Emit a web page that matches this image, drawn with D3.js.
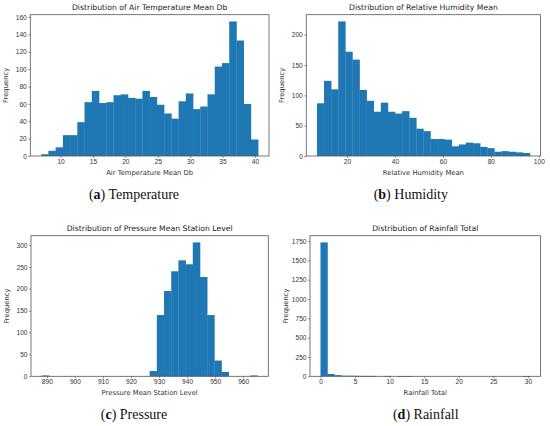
<!DOCTYPE html>
<html lang="en">
<head>
<meta charset="UTF-8">
<script src="https://d3js.org/d3.v7.min.js"></script>
<style>
  body { margin: 0; background: #fff; }
  svg { display: block; font-family: "DejaVu Sans", sans-serif; }
  .tick text { fill: #333; font-size: 6.6px; }
  .tick line { stroke: #444; stroke-width: 0.6; }
  .domain { display: none; }
  .frame { fill: none; stroke: #555; stroke-width: 0.8; }
  .title { fill: #222; font-size: 7.7px; }
  .axis-label { fill: #333; font-size: 6.8px; }
  .caption { fill: #111; font-family: "Liberation Serif", serif; font-size: 14px; }
</style>
</head>
<body>
<div id="chart"></div>
<script>
// Histogram counts (30 bins each) and the data range they cover
const tempCounts = [2, 6, 10, 24, 24, 39, 62, 75, 61, 62, 70, 71, 67, 66, 75,
  68, 59, 49, 43, 63, 72, 54, 57, 71, 103, 107, 155, 133, 60, 19];
const tempRange = [7.0, 40.5];

const humidCounts = [87, 124, 110, 222, 172, 159, 109, 91, 73, 88, 73, 70, 74, 63, 45,
  41, 28, 28, 27, 16, 19, 22, 21, 15, 13, 7, 8, 7, 6, 5];
const humidRange = [7.5, 96.25];

const pressCounts = [2, 0, 0, 0, 0, 0, 0, 0, 0, 0, 0, 0, 0, 0, 0,
  12, 140, 195, 240, 265, 256, 306, 227, 140, 36, 10, 0, 0, 0, 2];
const pressRange = [888.2, 965.1];

const rainCounts = [1733, 30, 15, 8, 8, 6, 5, 5, 0, 5, 0, 4, 4, 0, 0,
  0, 0, 0, 0, 0, 0, 0, 0, 0, 0, 0, 0, 0, 0, 1];
const rainRange = [0, 30.3];

// Tick labels
const tempXTicks = [10, 15, 20, 25, 30, 35, 40];
const tempYTicks = [0, 20, 40, 60, 80, 100, 120, 140, 160];
const humidXTicks = [20, 40, 60, 80, 100];
const humidYTicks = [0, 50, 100, 150, 200];
const pressXTicks = [890, 900, 910, 920, 930, 940, 950, 960];
const pressYTicks = [0, 50, 100, 150, 200, 250, 300];
const rainXTicks = [0, 5, 10, 15, 20, 25, 30];
const rainYTicks = [0, 250, 500, 750, 1000, 1250, 1500, 1750];

const width = 550;
const height = 426;
const fmt = d3.format("d");

const svg = d3.select("#chart")
  .append("svg")
  .attr("width", width)
  .attr("height", height);

svg.append("rect")
  .attr("width", width)
  .attr("height", height)
  .attr("fill", "#fff");

const panels = [
  { counts: tempCounts, range: tempRange, xTicks: tempXTicks, yTicks: tempYTicks,
    title: "Distribution of Air Temperature Mean Db", xLabel: "Air Temperature Mean Db",
    letter: "a", caption: "Temperature", capX: 134,
    box: { x0: 30.3, x1: 269, y0: 14.7, y1: 156 } },
  { counts: humidCounts, range: humidRange, xTicks: humidXTicks, yTicks: humidYTicks,
    title: "Distribution of Relative Humidity Mean", xLabel: "Relative Humidity Mean",
    letter: "b", caption: "Humidity", capX: 410.8,
    box: { x0: 306.3, x1: 540.5, y0: 14.7, y1: 156 } },
  { counts: pressCounts, range: pressRange, xTicks: pressXTicks, yTicks: pressYTicks,
    title: "Distribution of Pressure Mean Station Level", xLabel: "Pressure Mean Station Level",
    letter: "c", caption: "Pressure", capX: 134,
    box: { x0: 31, x1: 268.3, y0: 235.7, y1: 376.3 } },
  { counts: rainCounts, range: rainRange, xTicks: rainXTicks, yTicks: rainYTicks,
    title: "Distribution of Rainfall Total", xLabel: "Rainfall Total",
    letter: "d", caption: "Rainfall", capX: 425.8,
    box: { x0: 310, x1: 540.5, y0: 235.7, y1: 376.3 } }
];

panels.forEach(p => {
  const nBins = p.counts.length;
  const span = p.range[1] - p.range[0];
  const binW = span / nBins;
  const bins = p.counts.map((c, i) => ({
    x0: p.range[0] + i * binW,
    x1: p.range[0] + (i + 1) * binW,
    count: c
  }));

  // matplotlib-style 5% x margin, y headroom
  const x = d3.scaleLinear()
    .domain([p.range[0] - 0.05 * span, p.range[1] + 0.05 * span])
    .range([p.box.x0, p.box.x1]);
  const y = d3.scaleLinear()
    .domain([0, d3.max(p.counts) * 1.05])
    .range([p.box.y1, p.box.y0]);

  const g = svg.append("g");

  g.append("g")
    .selectAll("rect")
    .data(bins.filter(d => d.count > 0))
    .join("rect")
    .attr("x", d => x(d.x0))
    .attr("width", d => x(d.x1) - x(d.x0) + 0.3)
    .attr("y", d => y(d.count))
    .attr("height", d => Math.max(y(0) - y(d.count), 0.6))
    .attr("fill", "#1f77b4");

  g.append("g")
    .attr("transform", `translate(0,${p.box.y1})`)
    .call(d3.axisBottom(x).tickValues(p.xTicks).tickFormat(fmt).tickSize(2).tickPadding(1.5));

  g.append("g")
    .attr("transform", `translate(${p.box.x0},0)`)
    .call(d3.axisLeft(y).tickValues(p.yTicks).tickFormat(fmt).tickSize(2).tickPadding(1.5));

  g.append("rect")
    .attr("class", "frame")
    .attr("x", p.box.x0)
    .attr("y", p.box.y0)
    .attr("width", p.box.x1 - p.box.x0)
    .attr("height", p.box.y1 - p.box.y0);

  const midX = (p.box.x0 + p.box.x1) / 2;

  g.append("text")
    .attr("class", "title")
    .attr("x", midX)
    .attr("y", p.box.y0 - 4.8)
    .attr("text-anchor", "middle")
    .text(p.title);

  g.append("text")
    .attr("class", "axis-label")
    .attr("x", midX)
    .attr("y", p.box.y1 + 19)
    .attr("text-anchor", "middle")
    .text(p.xLabel);

  g.append("text")
    .attr("class", "axis-label")
    .attr("transform", `translate(${p.box.x0 - 22},${(p.box.y0 + p.box.y1) / 2}) rotate(-90)`)
    .attr("text-anchor", "middle")
    .text("Frequency");

  const cap = g.append("text")
    .attr("class", "caption")
    .attr("x", p.capX)
    .attr("y", p.box.y1 + 42.5)
    .attr("text-anchor", "middle");
  cap.append("tspan").text("(");
  cap.append("tspan").attr("font-weight", "bold").text(p.letter);
  cap.append("tspan").text(") " + p.caption);
});
</script>
</body>
</html>
